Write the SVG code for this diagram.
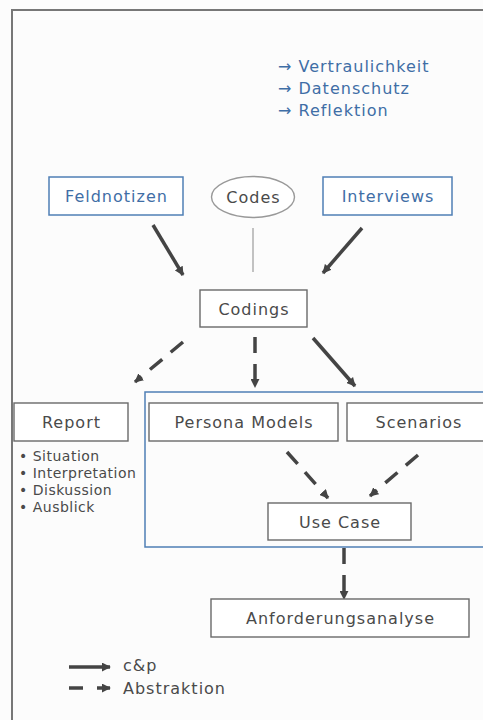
<svg xmlns="http://www.w3.org/2000/svg" width="483" height="720" viewBox="0 0 483 720">
<style>
  text { font-family: "DejaVu Sans", Verdana, sans-serif; }
  .lbl { font-size: 16px; letter-spacing: 1px; fill: #4a4a4a; text-anchor: middle; }
  .blbl { font-size: 16px; letter-spacing: 1px; fill: #3f6ea6; text-anchor: middle; }
  .note { font-size: 16px; letter-spacing: 1px; fill: #3f6ea6; }
  .bul { font-size: 14px; letter-spacing: 0.5px; fill: #4a4a4a; }
  .leg { font-size: 16px; letter-spacing: 1px; fill: #4a4a4a; }
  .box { fill: #ffffff; stroke: #6a6a6a; stroke-width: 1.4; }
  .bbox { fill: #ffffff; stroke: #4f7fb5; stroke-width: 1.5; }
  .solid { fill: none; stroke: #444; stroke-width: 3.5; marker-end: url(#ah); }
  .dash { fill: none; stroke: #444; stroke-width: 3.5; stroke-dasharray: 16 11; marker-end: url(#ah); }
</style>
<defs>
  <marker id="ah" markerUnits="userSpaceOnUse" viewBox="0 0 10 10" refX="9" refY="5" markerWidth="9" markerHeight="9" orient="auto">
    <path d="M0,0 L10,5 L0,10 z" fill="#444"/>
  </marker>
</defs>
<rect x="0" y="0" width="483" height="720" fill="#fcfcfc"/>
<path d="M12,720 L12,10 L483,10" fill="none" stroke="#777" stroke-width="2"/>

<g id="notes">
  <text class="note" x="278" y="72">→ Vertraulichkeit</text>
  <text class="note" x="278" y="94">→ Datenschutz</text>
  <text class="note" x="278" y="116">→ Reflektion</text>
</g>

<g id="container">
  <rect x="145" y="392" width="345" height="155" fill="none" stroke="#4f7fb5" stroke-width="1.5"/>
</g>

<g id="connectors">
  <line x1="253" y1="228" x2="253" y2="272" stroke="#888" stroke-width="1"/>
  <line class="solid" x1="153" y1="225" x2="183" y2="275"/>
  <line class="solid" x1="362" y1="228" x2="323" y2="273"/>
  <line class="dash" x1="183" y1="342" x2="135" y2="382"/>
  <line class="dash" x1="255" y1="337" x2="255" y2="387"/>
  <line class="solid" x1="313" y1="338" x2="355" y2="386"/>
  <line class="dash" x1="287" y1="452" x2="328" y2="498"/>
  <line class="dash" x1="418" y1="455" x2="370" y2="496"/>
  <line class="dash" x1="344" y1="548" x2="344" y2="599"/>
</g>

<g id="feldnotizen">
  <rect class="bbox" x="49" y="177" width="134" height="38"/>
  <text class="blbl" x="116.5" y="202">Feldnotizen</text>
</g>
<g id="codes">
  <ellipse cx="253" cy="197" rx="41.5" ry="20.5" fill="#fff" stroke="#999" stroke-width="1.4"/>
  <text class="lbl" x="253.5" y="203">Codes</text>
</g>
<g id="interviews">
  <rect class="bbox" x="323" y="177" width="129" height="38"/>
  <text class="blbl" x="388" y="202">Interviews</text>
</g>
<g id="codings">
  <rect class="box" x="200" y="290" width="107" height="37"/>
  <text class="lbl" x="254" y="314.5">Codings</text>
</g>
<g id="report">
  <rect class="box" x="14" y="403" width="114" height="38"/>
  <text class="lbl" x="71.5" y="428">Report</text>
  <text class="bul" x="19" y="461">• Situation</text>
  <text class="bul" x="19" y="478">• Interpretation</text>
  <text class="bul" x="19" y="495">• Diskussion</text>
  <text class="bul" x="19" y="512">• Ausblick</text>
</g>
<g id="persona">
  <rect class="box" x="149" y="403" width="189" height="38"/>
  <text class="lbl" x="244" y="428">Persona Models</text>
</g>
<g id="scenarios">
  <rect class="box" x="347" y="403" width="142" height="38"/>
  <text class="lbl" x="419" y="428">Scenarios</text>
</g>
<g id="usecase">
  <rect class="box" x="268" y="503" width="143" height="37"/>
  <text class="lbl" x="340" y="527.5">Use Case</text>
</g>
<g id="anforderung">
  <rect class="box" x="211" y="599" width="258" height="38"/>
  <text class="lbl" x="340.5" y="624">Anforderungsanalyse</text>
</g>

<g id="legend">
  <line x1="69" y1="667" x2="110" y2="667" stroke="#444" stroke-width="3.5" marker-end="url(#ah)"/>
  <line x1="69" y1="688" x2="110" y2="688" stroke="#444" stroke-width="3.5" stroke-dasharray="14 14" marker-end="url(#ah)"/>
  <text class="leg" x="123" y="671">c&amp;p</text>
  <text class="leg" x="123" y="694">Abstraktion</text>
</g>
</svg>
